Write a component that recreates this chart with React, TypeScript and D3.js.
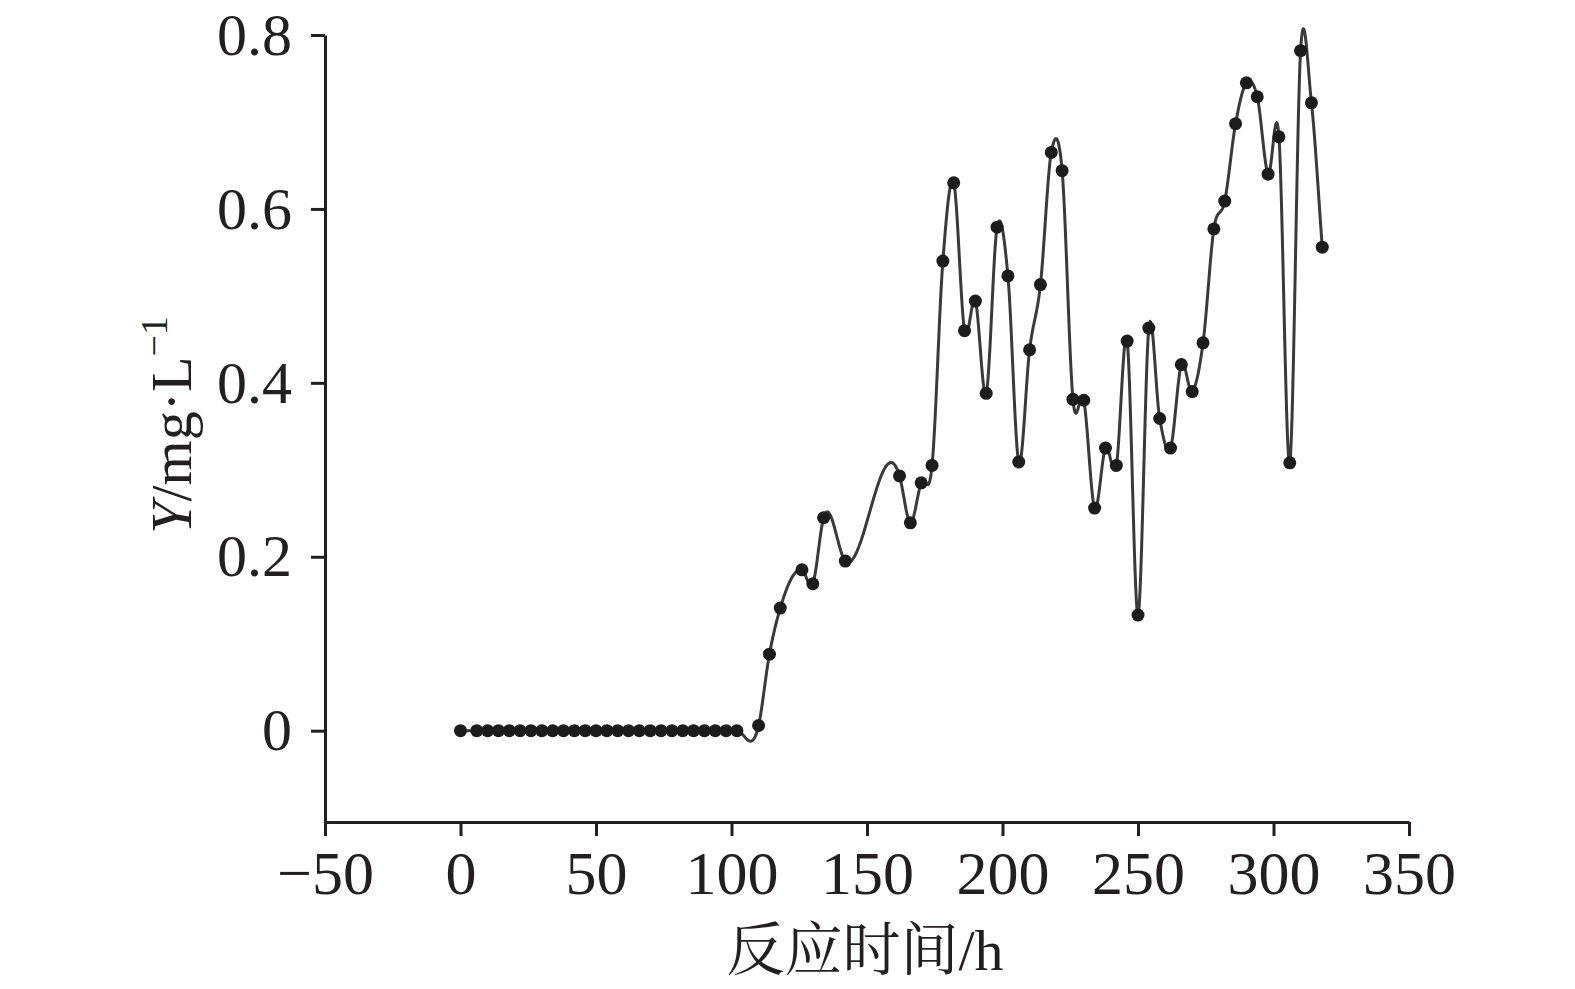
import React, { useRef, useEffect } from "react";
import * as d3 from "d3";

// reaction time (h) and measured concentration (mg/L)
const times = [
  0, 6, 10, 14, 18, 22, 26, 30, 34, 38, 42, 46, 50, 54, 58, 62, 66, 70, 74, 78,
  82, 86, 90, 94, 98, 102, 110, 114, 118, 126, 130, 134, 142, 162, 166, 170,
  174, 178, 182, 186, 190, 194, 198, 202, 206, 210, 214, 218, 222, 226, 230,
  234, 238, 242, 246, 250, 254, 258, 262, 266, 270, 274, 278, 282, 286, 290,
  294, 298, 302, 306, 310, 314, 318,
];
const values = [
  0, 0, 0, 0, 0, 0, 0, 0, 0, 0, 0, 0, 0, 0, 0, 0, 0, 0, 0, 0,
  0, 0, 0, 0, 0, 0, 0.006, 0.088, 0.141, 0.185, 0.169, 0.245, 0.195, 0.293, 0.239, 0.285,
  0.305, 0.54, 0.63, 0.46, 0.494, 0.388, 0.579, 0.523, 0.309, 0.438, 0.513, 0.665, 0.644, 0.381, 0.38,
  0.256, 0.325, 0.305, 0.448, 0.133, 0.463, 0.359, 0.325, 0.421, 0.39, 0.446, 0.577, 0.609, 0.698, 0.745,
  0.729, 0.64, 0.683, 0.308, 0.782, 0.722, 0.556,
];

const xTicks = [-50, 0, 50, 100, 150, 200, 250, 300, 350];
const xTickLabels = ["\u221250", "0", "50", "100", "150", "200", "250", "300", "350"];
const yTicks = [0, 0.2, 0.4, 0.6, 0.8];
const yTickLabels = ["0", "0.2", "0.4", "0.6", "0.8"];

const ink = "#231f20";
const serif = "'Liberation Serif', 'Times New Roman', serif";

// cubic Hermite spline in x, tangents from the three-point (parabolic) estimate
const curveSplineX = (context) => {
  let xs = [];
  let ys = [];
  return {
    areaStart() {},
    areaEnd() {},
    lineStart() {
      xs = [];
      ys = [];
    },
    point(x, y) {
      xs.push(+x);
      ys.push(+y);
    },
    lineEnd() {
      const n = xs.length;
      if (!n) return;
      context.moveTo(xs[0], ys[0]);
      if (n < 2) return;
      const h = [];
      const s = [];
      for (let i = 0; i < n - 1; i++) {
        h.push(xs[i + 1] - xs[i]);
        s.push((ys[i + 1] - ys[i]) / h[i]);
      }
      const m = new Array(n);
      m[0] = s[0];
      m[n - 1] = s[n - 2];
      for (let i = 1; i < n - 1; i++) {
        m[i] = (h[i] * s[i - 1] + h[i - 1] * s[i]) / (h[i - 1] + h[i]);
      }
      for (let i = 0; i < n - 1; i++) {
        const steps = 24;
        for (let k = 1; k <= steps; k++) {
          const u = k / steps;
          const u2 = u * u;
          const u3 = u2 * u;
          const y =
            (2 * u3 - 3 * u2 + 1) * ys[i] +
            (u3 - 2 * u2 + u) * h[i] * m[i] +
            (-2 * u3 + 3 * u2) * ys[i + 1] +
            (u3 - u2) * h[i] * m[i + 1];
          context.lineTo(xs[i] + h[i] * u, y);
        }
      }
    },
  };
};

const App = () => {
  const svgRef = useRef(null);

  useEffect(() => {
    const svg = d3.select(svgRef.current);
    svg.selectAll("*").remove();

    const x = d3.scaleLinear().domain([-50, 350]).range([325, 1409]);
    const y = d3.scaleLinear().domain([-0.105, 0.8]).range([822, 35]);

    const data = times.map((t, i) => ({ t, v: values[i] }));

    // x axis
    const gx = svg
      .append("g")
      .attr("transform", `translate(0,${y(-0.105)})`)
      .call(
        d3
          .axisBottom(x)
          .tickValues(xTicks)
          .tickSize(14)
          .tickSizeOuter(0)
          .tickFormat((d, i) => xTickLabels[i])
      );
    gx.select(".domain").attr("stroke", ink).attr("stroke-width", 3);
    gx.selectAll(".tick line").attr("stroke", ink).attr("stroke-width", 3);
    gx.selectAll(".tick text")
      .attr("y", 72)
      .attr("dy", "0")
      .attr("fill", ink)
      .attr("font-family", serif)
      .attr("font-size", 62);

    // y axis
    const gy = svg
      .append("g")
      .attr("transform", `translate(${x(-50)},0)`)
      .call(
        d3
          .axisLeft(y)
          .tickValues(yTicks)
          .tickSize(14)
          .tickSizeOuter(0)
          .tickFormat((d, i) => yTickLabels[i])
      );
    gy.select(".domain").attr("stroke", ink).attr("stroke-width", 3);
    gy.selectAll(".tick line").attr("stroke", ink).attr("stroke-width", 3);
    gy.selectAll(".tick text")
      .attr("x", -33)
      .attr("dy", "0.32em")
      .attr("fill", ink)
      .attr("font-family", serif)
      .attr("font-size", 60);

    // spline line
    const line = d3
      .line()
      .x((d) => x(d.t))
      .y((d) => y(d.v))
      .curve(curveSplineX);

    svg
      .append("path")
      .datum(data)
      .attr("d", line)
      .attr("fill", "none")
      .attr("stroke", "#3a3a3a")
      .attr("stroke-width", 3);

    // markers
    svg
      .selectAll(".dot")
      .data(data)
      .enter()
      .append("circle")
      .attr("class", "dot")
      .attr("cx", (d) => x(d.t))
      .attr("cy", (d) => y(d.v))
      .attr("r", 6.5)
      .attr("fill", "#1c1c1c");

    // x title
    const xt = svg
      .append("text")
      .attr("x", 865)
      .attr("y", 970)
      .attr("text-anchor", "middle")
      .attr("fill", ink)
      .attr("font-size", 58);
    xt.append("tspan")
      .attr("font-family", "'Noto Serif CJK SC', 'Noto Sans CJK SC', sans-serif")
      .text("反应时间");
    xt.append("tspan").attr("font-family", serif).text("/h");

    // y title
    const yt = svg
      .append("text")
      .attr("transform", "translate(191,425) rotate(-90)")
      .attr("text-anchor", "middle")
      .attr("fill", ink)
      .attr("font-family", serif)
      .attr("font-size", 58);
    yt.append("tspan").attr("font-style", "italic").text("Y");
    yt.append("tspan").text("/mg\u00b7L");
    yt.append("tspan").attr("font-size", 38).attr("dy", -24).text("\u22121");
  }, []);

  return (
    <svg
      ref={svgRef}
      width={1575}
      height={989}
      style={{ position: "absolute", left: 0, top: 0, background: "#fff" }}
    ></svg>
  );
};

export default App;
